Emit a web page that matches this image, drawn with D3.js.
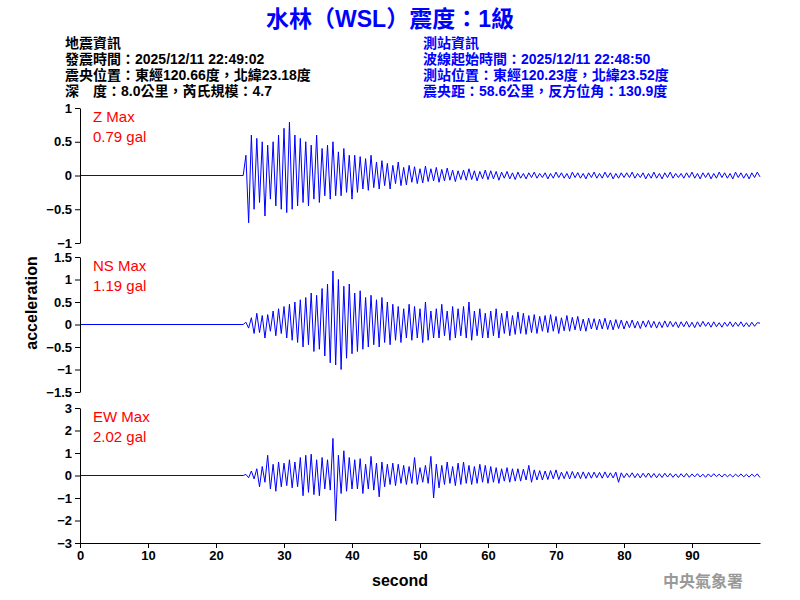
<!DOCTYPE html>
<html><head><meta charset="utf-8">
<script src="https://cdn.jsdelivr.net/npm/d3@7"></script>
<style>body{margin:0;background:#fff}</style>
</head><body>
<svg id="chart" width="800" height="600"></svg>
<script>
// waveform samples start at t0, one sample every dt seconds (before t0 the trace is flat)
var t0 = 24, dt = 0.4;
var zVals = [0.3,-0.7,0.6,-0.5,0.55,-0.4,0.5,-0.6,0.45,-0.35,
 0.5,-0.45,0.6,-0.5,0.7,-0.55,0.79,-0.5,0.6,-0.45,
 0.55,-0.4,0.5,-0.45,0.45,-0.35,0.6,-0.4,0.4,-0.3,
 0.45,-0.35,0.5,-0.3,0.35,-0.3,0.4,-0.25,0.3,-0.35,
 0.3,-0.25,0.28,-0.2,0.25,-0.22,0.3,-0.18,0.2,-0.2,
 0.22,-0.15,0.18,-0.2,0.15,-0.12,0.2,-0.15,0.12,-0.14,
 0.15,-0.1,0.13,-0.12,0.1,-0.11,0.14,-0.09,0.1,-0.08,
 0.12,-0.1,0.09,-0.08,0.11,-0.07,0.08,-0.09,0.07,-0.06,
 0.08,-0.07,0.1,-0.06,0.07,-0.08,0.06,-0.05,0.08,-0.06,
 0.07,-0.05,0.06,-0.07,0.05,-0.04,0.06,-0.05,0.04,-0.06,
 0.05,-0.04,0.03,-0.05,0.04,-0.03,0.05,-0.04,0.03,-0.03,
 0.04,-0.05,0.03,-0.04,0.05,-0.03,0.04,-0.04,0.03,-0.05,
 0.05,-0.03,0.04,-0.04,0.03,-0.05,0.04,-0.03,0.05,-0.04,
 0.03,-0.04,0.05,-0.03,0.04,-0.05,0.03,-0.04,0.04,-0.03,
 0.04,-0.03,0.05,-0.04,0.03,-0.03,0.04,-0.05,0.03,-0.04,
 0.05,-0.04,0.03,-0.05,0.04,-0.03,0.05,-0.04,0.03,-0.03,
 0.03,-0.04,0.04,-0.03,0.05,-0.04,0.03,-0.05,0.04,-0.03,
 0.04,-0.05,0.03,-0.04,0.05,-0.03,0.04,-0.04,0.03,-0.05,
 0.05,-0.03,0.04,-0.04,0.03,-0.05,0.04,-0.03,0.05,-0.02];
var nsVals = [0.05,-0.08,0.15,-0.2,0.25,-0.18,0.2,-0.3,0.22,-0.15,
 0.3,-0.25,0.35,-0.2,0.4,-0.3,0.45,-0.35,0.5,-0.4,
 0.55,-0.5,0.6,-0.45,0.7,-0.6,0.65,-0.55,0.8,-0.7,
 0.9,-0.85,1.19,-0.9,1.0,-1.0,0.85,-0.75,0.9,-0.65,
 0.7,-0.6,0.75,-0.55,0.6,-0.5,0.65,-0.45,0.55,-0.5,
 0.6,-0.4,0.5,-0.45,0.45,-0.35,0.4,-0.4,0.35,-0.3,
 0.45,-0.35,0.4,-0.3,0.35,-0.4,0.5,-0.35,0.3,-0.3,
 0.35,-0.3,0.45,-0.25,0.3,-0.35,0.4,-0.3,0.35,-0.25,
 0.4,-0.3,0.5,-0.35,0.3,-0.25,0.35,-0.3,0.25,-0.3,
 0.3,-0.25,0.35,-0.3,0.25,-0.2,0.3,-0.25,0.2,-0.22,
 0.28,-0.2,0.25,-0.22,0.2,-0.18,0.22,-0.2,0.18,-0.15,
 0.2,-0.18,0.22,-0.15,0.18,-0.2,0.15,-0.14,0.2,-0.15,
 0.16,-0.12,0.18,-0.14,0.12,-0.15,0.14,-0.1,0.13,-0.12,
 0.12,-0.1,0.14,-0.11,0.1,-0.12,0.11,-0.09,0.1,-0.1,
 0.08,-0.07,0.1,-0.08,0.07,-0.09,0.08,-0.06,0.09,-0.07,
 0.07,-0.08,0.06,-0.07,0.08,-0.06,0.07,-0.05,0.06,-0.07,
 0.06,-0.05,0.07,-0.06,0.05,-0.07,0.06,-0.05,0.07,-0.04,
 0.05,-0.06,0.06,-0.05,0.04,-0.06,0.05,-0.04,0.06,-0.05,
 0.05,-0.04,0.06,-0.05,0.04,-0.05,0.05,-0.04,0.04,0.03];
var ewVals = [0.05,-0.1,0.2,-0.15,0.3,-0.5,0.4,-0.3,0.9,-0.6,
 0.5,-0.7,0.6,-0.5,0.55,-0.45,0.7,-0.55,0.6,-0.5,
 0.8,-0.9,0.9,-0.75,0.95,-0.85,0.7,-0.9,0.8,-0.6,
 0.7,-0.65,1.65,-2.02,0.9,-0.8,1.1,-0.7,0.8,-0.6,
 0.7,-0.6,0.75,-0.8,0.5,-0.6,0.85,-0.65,0.55,-0.95,
 0.6,-0.5,0.5,-0.4,0.55,-0.45,0.5,-0.35,0.45,-0.4,
 0.4,-0.35,0.8,-0.4,0.35,-0.3,0.45,-0.35,0.85,-1.0,
 0.5,-0.55,0.45,-0.4,0.6,-0.35,0.4,-0.45,0.55,-0.4,
 0.6,-0.35,0.45,-0.4,0.4,-0.35,0.5,-0.3,0.45,-0.35,
 0.4,-0.3,0.35,-0.35,0.3,-0.25,0.35,-0.3,0.3,-0.25,
 0.3,-0.25,0.28,-0.2,0.45,-0.3,0.25,-0.2,0.22,-0.2,
 0.2,-0.18,0.22,-0.15,0.25,-0.18,0.15,-0.14,0.18,-0.15,
 0.18,-0.12,0.15,-0.14,0.16,-0.13,0.14,-0.12,0.15,-0.1,
 0.14,-0.12,0.16,-0.1,0.12,-0.11,0.15,-0.3,0.12,-0.1,
 0.1,-0.08,0.12,-0.1,0.09,-0.11,0.1,-0.08,0.11,-0.09,
 0.09,-0.1,0.08,-0.09,0.1,-0.07,0.09,-0.08,0.07,-0.09,
 0.08,-0.07,0.09,-0.08,0.07,-0.06,0.08,-0.07,0.06,-0.08,
 0.07,-0.06,0.08,-0.05,0.06,-0.07,0.07,-0.06,0.05,-0.07,
 0.06,-0.05,0.07,-0.06,0.05,-0.07,0.06,-0.05,0.07,-0.09];

var channels = ["Z", "NS", "EW"];
var maxLabels = ["0.79 gal", "1.19 gal", "2.02 gal"];
var yLimits = [1, 1.5, 3];
var yTicks = [[1,0.5,0,-0.5,-1],[1.5,1,0.5,0,-0.5,-1,-1.5],[3,2,1,0,-1,-2,-3]];
var xTicks = [0,10,20,30,40,50,60,70,80,90];
var series = [zVals, nsVals, ewVals];

var leftInfo = ["地震資訊","發震時間：2025/12/11 22:49:02","震央位置：東經120.66度，北緯23.18度","深　度：8.0公里，芮氏規模：4.7"];
var rightInfo = ["測站資訊","波線起始時間：2025/12/11 22:48:50","測站位置：東經120.23度，北緯23.52度","震央距：58.6公里，反方位角：130.9度"];

var svg = d3.select("#chart");
var font = "'Liberation Sans', Arial, sans-serif";
var cjk = "'Liberation Sans', 'Noto Sans CJK TC', sans-serif";

svg.append("text").attr("x", 390).attr("y", 27).attr("text-anchor", "middle")
  .attr("fill", "#0000ff").attr("font-family", cjk).attr("font-weight", "bold")
  .attr("font-size", 23).text("水林（WSL）震度：1級");

function info(lines, x0, color) {
  lines.forEach(function(s, i) {
    svg.append("text").attr("x", x0).attr("y", 48 + i*16).attr("font-family", cjk)
      .attr("font-weight", "bold").attr("font-size", 14).attr("fill", color).text(s);
  });
}
info(leftInfo, 65, "#000");
info(rightInfo, 423, "#0000ff");

var x = d3.scaleLinear().domain([0, 100]).range([80, 760]);
var tops = [108, 257, 408], h = 135;

channels.forEach(function(ch, k) {
  var y = d3.scaleLinear().domain([-yLimits[k], yLimits[k]]).range([tops[k] + h, tops[k]]);
  var g = svg.append("g");
  var pts = [[0, 0], [t0, 0]].concat(series[k].map(function(v, i) { return [t0 + (i + 1) * dt, v]; }));
  g.append("path").datum(pts).attr("fill", "none").attr("stroke", "#0000ff").attr("stroke-width", 1)
    .attr("d", d3.line().x(function(d) { return x(d[0]); }).y(function(d) { return y(d[1]); }));
  var ax = g.append("g").attr("transform", "translate(80,0)")
    .call(d3.axisLeft(y).tickValues(yTicks[k]).tickSize(5).tickSizeOuter(0).tickFormat(d3.format("")));
  ax.selectAll("text").attr("font-family", font).attr("font-weight", "bold").attr("font-size", 13).attr("fill", "#000");
  g.append("text").attr("x", 93).attr("y", tops[k] + 14).attr("fill", "#ff0000")
    .attr("font-family", font).attr("font-size", 15).text(ch + " Max");
  g.append("text").attr("x", 93).attr("y", tops[k] + 34).attr("fill", "#ff0000")
    .attr("font-family", font).attr("font-size", 15).text(maxLabels[k]);
});

var xa = svg.append("g").attr("transform", "translate(0,543)")
  .call(d3.axisBottom(x).tickValues(xTicks).tickSize(5).tickSizeOuter(0));
xa.selectAll("text").attr("font-family", font).attr("font-weight", "bold").attr("font-size", 13).attr("fill", "#000");
svg.selectAll(".domain, .tick line").attr("stroke", "#000");

svg.append("text").attr("x", 400).attr("y", 586).attr("text-anchor", "middle")
  .attr("font-family", font).attr("font-weight", "bold").attr("font-size", 16).text("second");
svg.append("text").attr("transform", "translate(37,303) rotate(-90)").attr("text-anchor", "middle")
  .attr("font-family", font).attr("font-weight", "bold").attr("font-size", 16).text("acceleration");
svg.append("text").attr("x", 703).attr("y", 587).attr("text-anchor", "middle")
  .attr("font-family", cjk).attr("font-weight", "bold").attr("font-size", 16).attr("fill", "#999")
  .text("中央氣象署");
</script>
</body></html>
